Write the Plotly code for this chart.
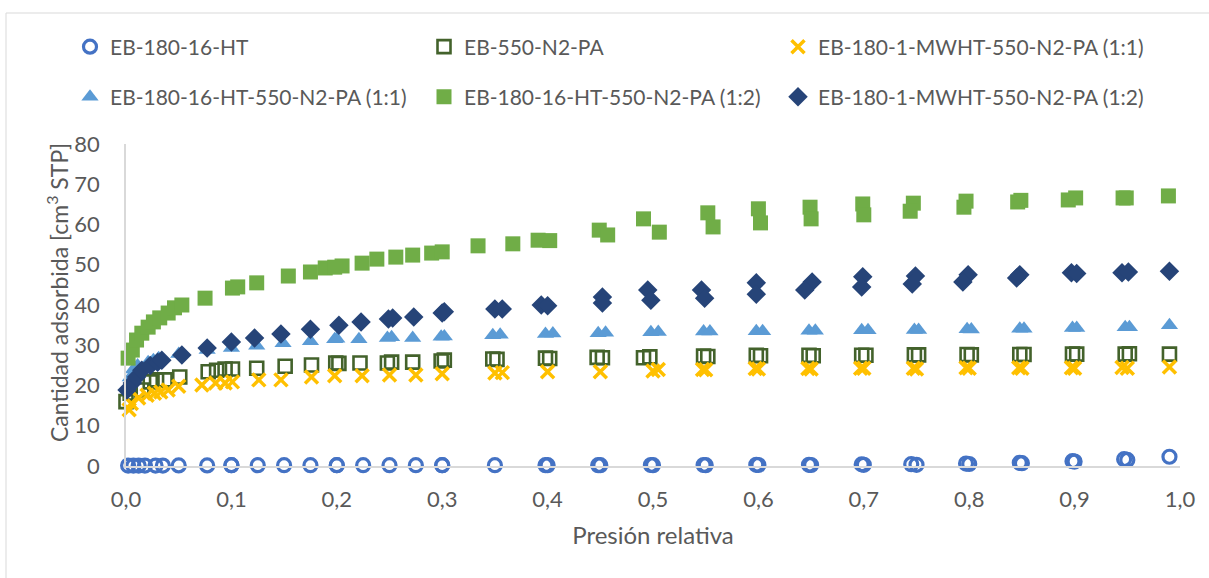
import plotly.graph_objects as go

# ---------------- data ----------------
names = [
    "EB-180-16-HT",
    "EB-550-N2-PA",
    "EB-180-1-MWHT-550-N2-PA (1:1)",
    "EB-180-16-HT-550-N2-PA (1:1)",
    "EB-180-16-HT-550-N2-PA (1:2)",
    "EB-180-1-MWHT-550-N2-PA (1:2)",
]

x_ht = [0.002, 0.007, 0.012, 0.018, 0.028, 0.035, 0.05, 0.077, 0.1, 0.125, 0.15, 0.175, 0.2, 0.225,
        0.25, 0.275, 0.3, 0.35, 0.4, 0.45, 0.5, 0.55, 0.6, 0.65, 0.7, 0.75, 0.8, 0.85, 0.9, 0.95, 0.99,
        0.947, 0.898, 0.848, 0.797, 0.745, 0.698, 0.648, 0.598, 0.548, 0.498, 0.448, 0.398, 0.3, 0.2, 0.1]
y_ht = [0.1, 0.1, 0.1, 0.1, 0.1, 0.1, 0.15, 0.15, 0.2, 0.2, 0.2, 0.2, 0.2, 0.2,
        0.2, 0.2, 0.2, 0.2, 0.2, 0.2, 0.2, 0.2, 0.25, 0.25, 0.3, 0.3, 0.5, 0.7, 1.1, 1.5, 2.3,
        1.7, 1.2, 0.8, 0.6, 0.45, 0.4, 0.3, 0.3, 0.25, 0.25, 0.2, 0.2, 0.2, 0.2, 0.2]

x_pa = [0.0, 0.004, 0.015, 0.023, 0.029, 0.037, 0.051, 0.078, 0.086, 0.094, 0.101, 0.124, 0.151, 0.176,
        0.199, 0.222, 0.248, 0.272, 0.299, 0.348, 0.398, 0.447, 0.497, 0.548, 0.598, 0.648, 0.698,
        0.748, 0.798, 0.848, 0.898, 0.948, 0.99,
        0.952, 0.902, 0.852, 0.802, 0.752, 0.702, 0.652, 0.602, 0.552, 0.491, 0.452, 0.402, 0.352,
        0.302, 0.252, 0.202]
y_pa = [16.0, 18.1, 18.9, 20.9, 21.4, 21.4, 22.1, 23.4, 23.8, 24.1, 24.1, 24.3, 24.8, 25.1,
        25.6, 25.6, 25.6, 25.8, 26.1, 26.6, 26.8, 27.0, 27.1, 27.3, 27.5, 27.5, 27.5,
        27.6, 27.7, 27.7, 27.8, 27.8, 27.8,
        27.9, 27.8, 27.7, 27.6, 27.6, 27.5, 27.4, 27.4, 27.2, 26.9, 26.9, 26.7, 26.5,
        26.3, 25.8, 25.5]

x_mw11 = [0.003, 0.005, 0.012, 0.02, 0.027, 0.033, 0.04, 0.05, 0.072, 0.085, 0.094, 0.101, 0.126,
          0.147, 0.176, 0.198, 0.224, 0.25, 0.275, 0.3, 0.35, 0.4, 0.45, 0.5, 0.55, 0.6, 0.65, 0.7,
          0.75, 0.8, 0.85, 0.9, 0.95, 0.99,
          0.945, 0.897, 0.847, 0.797, 0.747, 0.697, 0.647, 0.597, 0.547, 0.505, 0.357]
y_mw11 = [14.0, 15.5, 16.9, 17.6, 18.1, 18.4, 18.9, 19.8, 20.1, 20.6, 20.6, 20.9, 21.4,
          21.4, 22.1, 22.4, 22.4, 22.6, 22.6, 22.9, 23.1, 23.4, 23.4, 23.6, 23.9, 24.1, 24.1, 24.3,
          24.1, 24.3, 24.3, 24.3, 24.3, 24.6,
          24.5, 24.4, 24.4, 24.4, 24.3, 24.3, 24.2, 24.2, 24.0, 24.0, 23.2]

x_ht11 = [0.001, 0.004, 0.007, 0.011, 0.021, 0.026, 0.031, 0.05, 0.077, 0.1, 0.124, 0.149, 0.175,
          0.198, 0.221, 0.248, 0.272, 0.299, 0.348, 0.398, 0.448, 0.498, 0.548, 0.598, 0.648,
          0.698, 0.748, 0.798, 0.848, 0.898, 0.948, 0.99,
          0.952, 0.902, 0.852, 0.802, 0.752, 0.704, 0.654, 0.604, 0.554, 0.505, 0.455, 0.405,
          0.355, 0.302, 0.252, 0.2]
y_ht11 = [19.6, 22.0, 24.0, 25.0, 25.8, 26.3, 26.8, 27.8, 28.8, 29.3, 29.9, 30.5, 31.0,
          31.5, 31.5, 31.8, 31.8, 32.1, 32.5, 32.8, 33.0, 33.2, 33.4, 33.5, 33.6,
          33.7, 33.8, 34.0, 34.1, 34.3, 34.5, 35.0,
          34.5, 34.3, 34.1, 33.9, 33.8, 33.7, 33.6, 33.5, 33.4, 33.3, 33.1, 32.9,
          32.6, 32.2, 32.0, 31.6]

x_ht12 = [0.002, 0.006, 0.01, 0.015, 0.021, 0.026, 0.032, 0.04, 0.046, 0.053, 0.075, 0.101, 0.124,
          0.154, 0.175, 0.189, 0.205, 0.224, 0.238, 0.256, 0.272, 0.29, 0.334, 0.367, 0.391, 0.449,
          0.491, 0.552, 0.6, 0.649, 0.699, 0.747, 0.797, 0.846, 0.894, 0.946, 0.989,
          0.949, 0.901, 0.849, 0.795, 0.744, 0.7, 0.65, 0.602, 0.557, 0.506, 0.457, 0.402, 0.3,
          0.198, 0.106]
y_ht12 = [26.8, 28.8, 31.3, 33.0, 34.5, 35.8, 36.8, 38.0, 39.3, 40.0, 41.7, 44.2, 45.5,
          47.2, 48.2, 49.2, 49.7, 50.4, 51.4, 51.9, 52.4, 52.9, 54.7, 55.2, 56.1, 58.6,
          61.4, 62.9, 63.9, 64.3, 65.1, 65.3, 65.8, 65.6, 66.1, 66.6, 67.1,
          66.6, 66.6, 66.0, 64.3, 63.3, 62.4, 61.4, 60.4, 59.4, 58.1, 57.4, 56.0, 53.2,
          49.4, 44.5]

x_mw12 = [0.001, 0.006, 0.01, 0.015, 0.023, 0.03, 0.034, 0.053, 0.077, 0.1, 0.122, 0.147, 0.175,
          0.202, 0.223, 0.249, 0.273, 0.3, 0.35, 0.394, 0.452, 0.495, 0.546, 0.598, 0.651, 0.699,
          0.749, 0.799, 0.848, 0.897, 0.945, 0.99,
          0.951, 0.902, 0.845, 0.794, 0.746, 0.698, 0.644, 0.598, 0.549, 0.498, 0.452, 0.4,
          0.357, 0.302, 0.253]
y_mw12 = [18.9, 20.6, 22.1, 23.8, 25.0, 25.8, 26.3, 27.6, 29.3, 30.8, 31.8, 32.8, 34.0,
          35.0, 35.8, 36.5, 37.0, 38.0, 39.0, 40.0, 42.0, 43.7, 43.7, 45.5, 45.7, 47.0,
          47.2, 47.5, 47.5, 48.0, 48.0, 48.4,
          48.2, 47.8, 46.7, 45.7, 45.2, 44.5, 43.7, 42.7, 41.7, 41.2, 40.5, 39.8,
          39.0, 38.3, 36.8]

x_ticks = [0.0, 0.1, 0.2, 0.3, 0.4, 0.5, 0.6, 0.7, 0.8, 0.9, 1.0]
y_ticks = [0, 10, 20, 30, 40, 50, 60, 70, 80]

x_title = "Presión relativa"
y_title = "Cantidad adsorbida [cm<sup>3</sup> STP]"

# ---------------- styles ----------------
FONT = "Lato"
GREY = "#595959"

series = [
    (names[0], x_ht, y_ht, dict(symbol="circle-open", size=13, color="#4472c4",
                                  line=dict(width=3.2, color="#4472c4"))),
    (names[1], x_pa, y_pa, dict(symbol="square-open", size=13, color="#43622b",
                                  line=dict(width=2.6, color="#43622b"))),
    (names[2], x_mw11, y_mw11, dict(symbol="x-thin-open", size=13, color="#ffc000",
                                      line=dict(width=3.5, color="#ffc000"))),
    (names[3], x_ht11, y_ht11, dict(symbol="triangle-up", size=15, color="#5b9bd5",
                                      line=dict(width=0))),
    (names[4], x_ht12, y_ht12, dict(symbol="square", size=15, color="#70ad47",
                                      line=dict(width=0))),
    (names[5], x_mw12, y_mw12, dict(symbol="diamond", size=15, color="#264478",
                                      line=dict(width=0))),
]

legend_ids = ["legend", "legend2", "legend3", "legend4", "legend5", "legend6"]

fig = go.Figure()
for (name, xs, ys, mk), lg in zip(series, legend_ids):
    fig.add_trace(go.Scatter(x=xs, y=ys, mode="markers", name=name, marker=mk,
                             cliponaxis=False, legend=lg, showlegend=True))

W, H = 1209, 578
L, R, T, B = 126, 29, 144, 112
pw, ph = W - L - R, H - T - B

def px_x(p):
    return (p - L) / pw

def px_y(p):
    return (H - B - p) / ph

legend_common = dict(orientation="h", xanchor="left", yanchor="middle",
                     font=dict(family=FONT, size=21, color=GREY),
                     bgcolor="rgba(0,0,0,0)", itemsizing="trace")

col_px = [70, 424, 778]
row_px = [47, 97]
legends = {}
for i, lg in enumerate(legend_ids):
    legends[lg] = dict(x=px_x(col_px[i % 3]), y=px_y(row_px[i // 3]), **legend_common)

fig.update_layout(
    width=W, height=H,
    showlegend=True,
    margin=dict(l=L, r=R, t=T, b=B),
    paper_bgcolor="white", plot_bgcolor="white",
    separators=",.",
    font=dict(family=FONT, size=20, color=GREY),
    xaxis=dict(range=[0, 1.0], tickvals=x_ticks, tickformat=".1f",
               showline=True, linecolor="#d9d9d9", linewidth=1.5,
               showgrid=False, zeroline=False, ticks="", ticklabelstandoff=13,
               tickfont=dict(family=FONT, size=22, color=GREY),
               title=dict(text=x_title, standoff=16,
                          font=dict(family=FONT, size=24, color=GREY))),
    yaxis=dict(range=[0, 80], tickvals=y_ticks,
               showline=True, linecolor="#d9d9d9", linewidth=1.5,
               showgrid=False, zeroline=False, ticks="", ticklabelstandoff=20,
               tickfont=dict(family=FONT, size=22, color=GREY)),
    annotations=[dict(text=y_title, textangle=-90, showarrow=False,
                      xref="paper", yref="paper", x=px_x(57), y=px_y(293),
                      xanchor="center", yanchor="middle",
                      font=dict(family=FONT, size=23, color=GREY))],
    shapes=[dict(type="rect", xref="paper", yref="paper",
                 x0=px_x(6), x1=px_x(1300), y0=px_y(700), y1=px_y(13),
                 line=dict(color="#d9d9d9", width=1), fillcolor="rgba(0,0,0,0)",
                 layer="below")],
    **legends,
)

fig.write_html("out.html")
